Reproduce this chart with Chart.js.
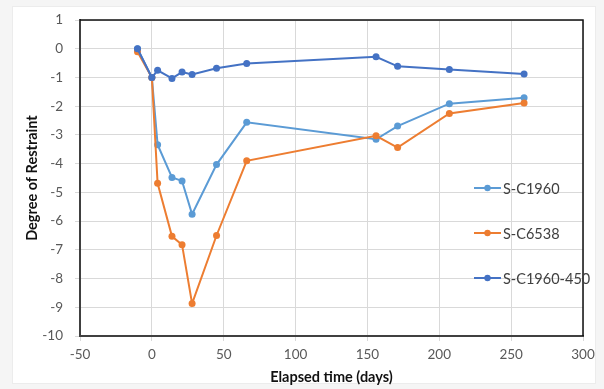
<!DOCTYPE html>
<html>
<head>
<meta charset="utf-8">
<script src="https://cdn.jsdelivr.net/npm/chart.js@4/dist/chart.umd.min.js"></script>
<style>
  html, body { margin:0; padding:0; background:#f5f5f5; width:604px; height:389px; overflow:hidden; }
  #card { position:absolute; left:12px; top:6px; width:582px; height:376px; background:#fff; border:1px solid #ececec; }
  #wrap { position:absolute; left:0; top:0; width:604px; height:389px; }
  #legend { position:absolute; left:0; top:0; font-family:Lato, "Open Sans", sans-serif; font-size:14.5px; color:#404040; }
  .item { position:absolute; display:flex; align-items:center; white-space:nowrap; }
  .item svg { margin-right:2px; }
</style>
</head>
<body>
<div id="card"></div>
<div id="wrap"><canvas id="c" width="604" height="389"></canvas></div>
<div id="legend"></div>
<script>
// ---- data ----
const days = [-10, 0, 4, 14, 21, 28, 45, 66, 156, 171, 207, 259];
const sC1960    = [0.0, -1.0, -3.34, -4.48, -4.6, -5.76, -4.03, -2.56, -3.15, -2.69, -1.91, -1.70];
const sC6538    = [-0.1, -1.0, -4.68, -6.53, -6.82, -8.87, -6.5, -3.9, -3.03, -3.44, -2.25, -1.89];
const sC1960_450 = [0.0, -1.0, -0.75, -1.03, -0.81, -0.89, -0.68, -0.51, -0.28, -0.61, -0.72, -0.88];
const seriesNames = ["S-C1960", "S-C6538", "S-C1960-450"];
const seriesColors = ["#5B9BD5", "#ED7D31", "#4472C4"];
const xTicks = [-50, 0, 50, 100, 150, 200, 250, 300];
const yTicks = [1, 0, -1, -2, -3, -4, -5, -6, -7, -8, -9, -10];

const allSeries = [sC1960, sC6538, sC1960_450];
const drawOrder = [2, 1, 0];

const FONT = 'Lato, "Open Sans", sans-serif';

const frame = {
  id: 'frame',
  afterDatasetsDraw(chart) {
    const a = chart.chartArea, ctx = chart.ctx;
    ctx.save();
    ctx.strokeStyle = '#111';
    ctx.lineWidth = 1.5;
    ctx.beginPath();
    ctx.moveTo(a.left, a.top); ctx.lineTo(a.right, a.top); ctx.lineTo(a.right, a.bottom);
    ctx.stroke();
    ctx.restore();
  }
};

const chart = new Chart(document.getElementById('c'), {
  type: 'line',
  data: {
    datasets: allSeries.map((s, i) => ({
      label: seriesNames[i],
      data: days.map((d, k) => ({ x: d, y: s[k] })),
      borderColor: seriesColors[i],
      backgroundColor: seriesColors[i],
      borderWidth: 2,
      pointRadius: 3.5,
      pointHoverRadius: 3.5,
      pointBorderWidth: 0,
      tension: 0,
      order: drawOrder[i]
    }))
  },
  options: {
    responsive: false,
    animation: false,
    events: [],
    layout: { padding: { left: 20, right: 21, top: 13, bottom: 0 } },
    plugins: { legend: { display: false }, tooltip: { enabled: false } },
    scales: {
      x: {
        type: 'linear', min: -50, max: 300,
        afterBuildTicks: s => { s.ticks = xTicks.map(v => ({ value: v })); },
        afterFit: s => { s.height = 53; },
        grid: { color: '#d9d9d9', lineWidth: 1, tickLength: 5, drawTicks: true },
        border: { display: true, color: '#404040', width: 2 },
        ticks: { color: '#595959', font: { family: FONT, size: 13.5 }, padding: 6, maxRotation: 0 },
        title: { display: true, text: 'Elapsed time (days)', color: '#111', font: { family: FONT, size: 14.5, weight: 'bold' }, padding: { top: 2, bottom: 3 } }
      },
      y: {
        type: 'linear', min: -10, max: 1,
        afterBuildTicks: s => { s.ticks = yTicks.map(v => ({ value: v })); },
        afterFit: s => { s.width = 60; },
        grid: { color: '#d9d9d9', lineWidth: 1, tickLength: 5, drawTicks: true },
        border: { display: true, color: '#404040', width: 2 },
        ticks: { color: '#595959', font: { family: FONT, size: 13.5 }, padding: 12 },
        title: { display: true, text: 'Degree of Restraint', color: '#111', font: { family: FONT, size: 14.5, weight: 'bold' }, padding: { top: 4, bottom: 4 } }
      }
    }
  },
  plugins: [frame]
});

// legend built from the series names/colours
const legendTops = [188, 233, 278];
const leg = document.getElementById('legend');
seriesNames.forEach((name, i) => {
  const c = seriesColors[i];
  const d = document.createElement('div');
  d.className = 'item';
  d.style.left = '474px';
  d.style.top = (legendTops[i] - 9) + 'px';
  d.style.height = '18px';
  d.innerHTML = `<svg width="27" height="8" viewBox="0 0 27 8"><line x1="0" y1="4" x2="27" y2="4" stroke="${c}" stroke-width="2"/><circle cx="13.5" cy="4" r="3.2" fill="${c}"/></svg><span>${name}</span>`;
  leg.appendChild(d);
});
</script>
</body>
</html>
